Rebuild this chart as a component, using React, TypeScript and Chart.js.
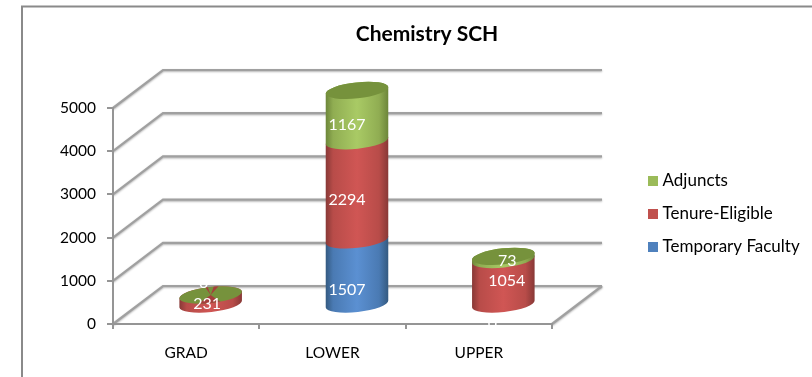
import React, { useEffect, useRef } from "react";
import { Chart, registerables } from "chart.js";

Chart.register(...registerables);

const categories = ["GRAD", "LOWER", "UPPER"];
const temporaryFaculty = [null, 1507, 0];
const tenureEligible = [231, 2294, 1054];
const adjuncts = [0, 1167, 73];

const FONT = "Lato, 'Open Sans', sans-serif";
const AXIS = "#959595";

// visual styling
const depth = { x: 50, y: -38 };
const barShift = { x: 24.5, y: -19 };
const capRadiusY = 8;
const tilt = -0.11;
const shades = {
  blue: ["#33597f", "#4a7ab3", "#5b90d2"],
  red: ["#873836", "#b84c49", "#d05654"],
  green: ["#6c8539", "#90ad52", "#a9ca65"],
};
const capGreen = "#76923c";
const capRed = "#a53f3c";
// label nudges per series, per category, mimicking the source's perspective offset
const labelNudges = [
  [[0, 0], [-10, 18], [-11, 19]],
  [[-3.5, 4], [-10, 9], [3.5, -1]],
  [[-7, -12], [-10, 9], [4, 3]],
];

const threeD = {
  id: "threeD",
  beforeLayout(chart: any) {
    const legend = chart.legend;
    if (legend && !legend.__pinned) {
      const fit = legend.fit;
      legend.fit = function () {
        fit.call(this);
        this.width = 260;
      };
      legend.__pinned = true;
    }
  },
  afterLayout(chart: any) {
    const legend = chart.legend;
    const p = legend.options.labels.padding;
    legend.left = 652 - p;
    legend.right = 812;
    legend.top = 156.5;
    legend.bottom = 377;
    chart.titleBlock.left = 42;
  },
  beforeDraw(chart: any) {
    const { ctx, scales } = chart;
    ctx.save();
    ctx.strokeStyle = "#8a8a8a";
    ctx.lineWidth = 2;
    ctx.beginPath();
    ctx.moveTo(22, 377);
    ctx.lineTo(22, 6.5);
    ctx.lineTo(812, 6.5);
    ctx.stroke();

    const x0 = scales.x.left;
    const x1 = scales.x.right;
    ctx.strokeStyle = "#a0a0a0";
    ctx.lineWidth = 2.2;
    ctx.shadowColor = "rgba(0,0,0,0.3)";
    ctx.shadowBlur = 2;
    ctx.shadowOffsetY = 1;
    for (const t of scales.y.ticks) {
      const y = scales.y.getPixelForValue(t.value);
      ctx.beginPath();
      ctx.moveTo(x0, y);
      ctx.lineTo(x0 + depth.x, y + depth.y);
      ctx.lineTo(x1 + depth.x, y + depth.y);
      ctx.stroke();
    }
    const y0 = scales.y.getPixelForValue(0);
    ctx.beginPath();
    ctx.moveTo(x1, y0);
    ctx.lineTo(x1 + depth.x, y0 + depth.y);
    ctx.stroke();
    ctx.restore();
  },
  beforeDatasetsDraw(chart: any) {
    const { ctx } = chart;
    const order = ["blue", "red", "green"];
    ctx.save();
    categories.forEach((_, ci) => {
      let topY = 0;
      let topX = 0;
      let topR = 0;
      let lastKey = "green";
      for (let di = 0; di < 3; di++) {
        const el = chart.getDatasetMeta(di).data[ci];
        const v = chart.data.datasets[di].data[ci];
        if (v === null || !el) continue;
        const cx = el.x + barShift.x;
        const rx = el.width / 2;
        const yt = el.y + barShift.y;
        const yb = el.base + barShift.y;
        if (v > 0) {
          const s = shades[order[di]];
          const g = ctx.createLinearGradient(cx - rx, 0, cx + rx, 0);
          g.addColorStop(0, s[0]);
          g.addColorStop(0.12, s[1]);
          g.addColorStop(0.5, s[2]);
          g.addColorStop(0.85, s[1]);
          g.addColorStop(1, s[0]);
          ctx.fillStyle = g;
          ctx.beginPath();
          ctx.ellipse(cx, yb, rx, capRadiusY, tilt, 0, Math.PI, false);
          ctx.ellipse(cx, yt, rx, capRadiusY, tilt, Math.PI, Math.PI * 2, false);
          ctx.closePath();
          ctx.fill();
        }
        topY = yt;
        topX = cx;
        topR = rx;
        lastKey = v === 0 && di === 2 ? "fight" : "green";
      }
      ctx.fillStyle = capGreen;
      ctx.beginPath();
      ctx.ellipse(topX, topY, topR, capRadiusY, tilt, 0, Math.PI * 2);
      ctx.fill();
      if (lastKey === "fight") {
        ctx.save();
        ctx.beginPath();
        ctx.ellipse(topX, topY, topR, capRadiusY, tilt, 0, Math.PI * 2);
        ctx.clip();
        ctx.fillStyle = capRed;
        const wedges = [[35, 145], [-125, -110], [-70, -48]];
        for (const [a, b] of wedges) {
          ctx.beginPath();
          ctx.moveTo(topX, topY);
          const R = topR * 1.2;
          ctx.lineTo(topX + R * Math.cos((a * Math.PI) / 180), topY + R * Math.sin((a * Math.PI) / 180));
          ctx.lineTo(topX + R * Math.cos((b * Math.PI) / 180), topY + R * Math.sin((b * Math.PI) / 180));
          ctx.closePath();
          ctx.fill();
        }
        ctx.restore();
      }
    });
    ctx.fillStyle = "#ffffff";
    ctx.font = `16px ${FONT}`;
    ctx.textAlign = "center";
    ctx.textBaseline = "middle";
    chart.data.datasets.forEach((ds: any, di: number) => {
      chart.getDatasetMeta(di).data.forEach((el: any, ci: number) => {
        const v = ds.data[ci];
        if (v === null) return;
        const [nx, ny] = labelNudges[di][ci];
        ctx.fillText(String(v), el.x + barShift.x + nx, (el.y + el.base) / 2 + barShift.y + ny);
      });
    });
    ctx.restore();
    return false;
  },
};

const series = (label: string, data: any[], color: string) => ({
  label,
  data,
  backgroundColor: color,
  borderColor: color,
  borderWidth: 8,
  categoryPercentage: 0.43,
  barPercentage: 1,
});

export default function App() {
  const ref = useRef<HTMLCanvasElement>(null);
  useEffect(() => {
    const chart = new Chart(ref.current as HTMLCanvasElement, {
      type: "bar",
      data: {
        labels: categories,
        datasets: [
          series("Temporary Faculty", temporaryFaculty, "#4f81bd"),
          series("Tenure-Eligible", tenureEligible, "#c0504d"),
          series("Adjuncts", adjuncts, "#9bbb59"),
        ],
      },
      options: {
        responsive: false,
        animation: false,
        layout: { padding: 0 },
        plugins: {
          tooltip: { enabled: false },
          title: {
            display: true,
            text: "Chemistry SCH",
            color: "#000000",
            font: { family: FONT, size: 21, weight: "bold" },
            padding: { top: 22, bottom: 60.8 },
          },
          legend: {
            position: "right",
            align: "start",
            reverse: true,
            labels: {
              boxWidth: 2,
              boxHeight: 2,
              padding: 16,
              color: "#000000",
              font: { family: FONT, size: 17 },
            },
          },
        },
        scales: {
          x: {
            stacked: true,
            afterFit: (s: any) => {
              s.height = 53;
            },
            grid: { drawOnChartArea: false, color: AXIS, lineWidth: 2, tickLength: 5 },
            border: { color: AXIS, width: 2 },
            ticks: { color: "#000000", padding: 15, maxRotation: 0, font: { family: FONT, size: 15.5 } },
          },
          y: {
            stacked: true,
            min: 0,
            max: 5000,
            afterFit: (s: any) => {
              s.width = 113;
            },
            grid: { drawOnChartArea: false, color: AXIS, lineWidth: 2, tickLength: 6 },
            border: { color: AXIS, width: 2 },
            ticks: {
              stepSize: 1000,
              color: "#000000",
              padding: 11,
              font: { family: FONT, size: 15.5 },
              callback: (v: any) => String(v),
            },
          },
        },
      },
      plugins: [threeD],
    } as any);
    return () => chart.destroy();
  }, []);
  return (
    <div style={{ position: "absolute", left: 0, top: 0, width: 812, height: 377, background: "#fff" }}>
      <canvas ref={ref} width={812} height={377} style={{ display: "block", filter: "blur(0.35px)" }} />
    </div>
  );
}
